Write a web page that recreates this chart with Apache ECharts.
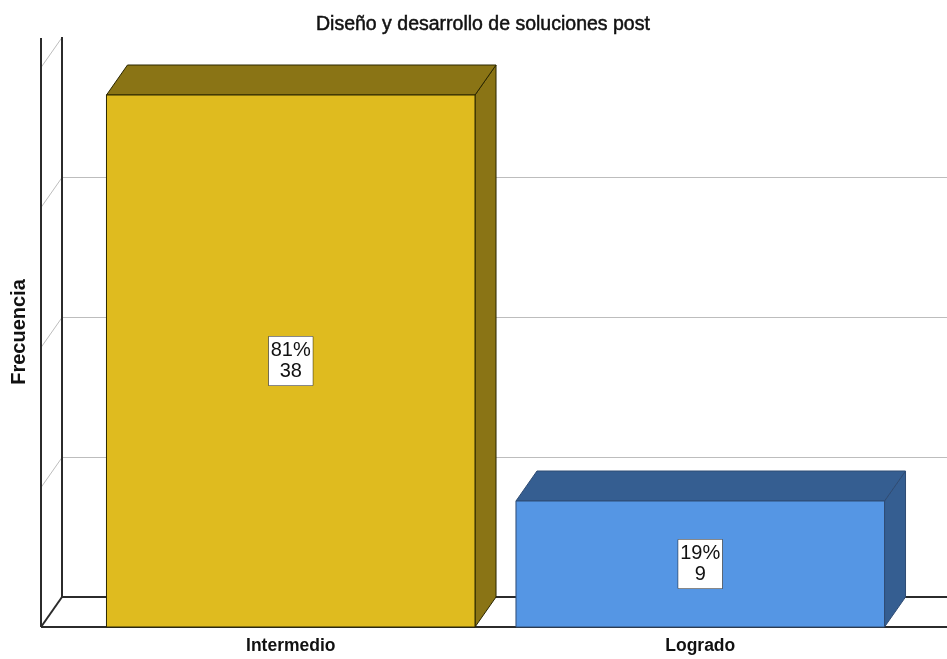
<!DOCTYPE html>
<html>
<head>
<meta charset="utf-8">
<script src="https://cdn.jsdelivr.net/npm/echarts@6/dist/echarts.min.js"></script>
<style>
  html, body { margin: 0; padding: 0; background: #ffffff; }
  #chart { width: 947px; height: 659px; }
</style>
</head>
<body>
<div id="chart"></div>
<script>
// Data
const categories = ['Intermedio', 'Logrado'];
const counts = [38, 9];
const yTicks = [0, 10, 20, 30, 40];

const titleText = 'Diseño y desarrollo de soluciones post';
const yAxisTitle = 'Frecuencia';

// Styling
const FONT = '"Liberation Sans", Arial, sans-serif';
const frontColors = ['#DFBB1F', '#5596E4'];
const shadeColors = ['#8A7415', '#355E91'];
const edgeColors = ['#2a2600', '#2f4c74'];
const DEPTH_X = 21;   // 3D depth offset, px
const DEPTH_Y = 30;
const WALL_DARK = '#2b2b2b';
const GRID_GRAY = '#bdbdbd';

const total = counts.reduce((a, b) => a + b, 0);
const percents = counts.map(v => Math.round(v / total * 100));

const chart = echarts.init(document.getElementById('chart'), null, { renderer: 'canvas' });

// Back wall, floor and left wall of the 3D frame, drawn in the back grid
function renderWalls(params, api) {
  const cs = params.coordSys;
  const left = cs.x;
  const right = cs.x + cs.width + 40;
  const children = [];
  const line = (x1, y1, x2, y2, stroke, w) => children.push({
    type: 'line', shape: { x1, y1, x2, y2 },
    style: { stroke, lineWidth: w }
  });
  const yTop = api.coord([0, yTicks[yTicks.length - 1]])[1];
  const yBase = api.coord([0, 0])[1];
  // gridlines on the back wall and their diagonals on the left wall
  yTicks.forEach((t, i) => {
    if (i === 0) return;
    const y = Math.round(api.coord([0, t])[1]) + 0.5;
    if (i < yTicks.length - 1) line(left, y, right, y, GRID_GRAY, 1);
    line(left, y, left - DEPTH_X, y + DEPTH_Y, GRID_GRAY, 1);
  });
  // left wall verticals
  line(left, yTop, left, yBase, WALL_DARK, 2);
  line(left - DEPTH_X, yTop + 1, left - DEPTH_X, yBase + DEPTH_Y, WALL_DARK, 2);
  // floor
  line(left, yBase, right, yBase, WALL_DARK, 2);
  line(left - DEPTH_X, yBase + DEPTH_Y, right, yBase + DEPTH_Y, WALL_DARK, 2);
  line(left, yBase, left - DEPTH_X, yBase + DEPTH_Y, WALL_DARK, 2);
  return { type: 'group', children };
}

// 3D bars with value / percentage label
function renderBar(params, api) {
  const i = api.value(0);
  const v = api.value(1);
  const top = api.coord([i, v]);
  const base = api.coord([i, 0]);
  const w = api.size([1, 0])[0] * 0.9;
  const xl = top[0] - w / 2, xr = top[0] + w / 2;
  const yt = top[1], yb = base[1];
  const edge = edgeColors[i];
  return {
    type: 'group',
    children: [
      {
        type: 'polygon',
        shape: { points: [[xr, yt], [xr + DEPTH_X, yt - DEPTH_Y], [xr + DEPTH_X, yb - DEPTH_Y], [xr, yb]] },
        style: { fill: shadeColors[i], stroke: edge, lineWidth: 1 }
      },
      {
        type: 'polygon',
        shape: { points: [[xl, yt], [xl + DEPTH_X, yt - DEPTH_Y], [xr + DEPTH_X, yt - DEPTH_Y], [xr, yt]] },
        style: { fill: shadeColors[i], stroke: edge, lineWidth: 1 }
      },
      {
        type: 'rect',
        shape: { x: xl, y: yt, width: w, height: yb - yt },
        style: { fill: frontColors[i], stroke: edge, lineWidth: 1 }
      },
      {
        type: 'text',
        x: top[0], y: (yt + yb) / 2,
        style: {
          text: percents[i] + '%\n' + counts[i],
          align: 'center', verticalAlign: 'middle',
          font: '20px ' + FONT, lineHeight: 21,
          fill: '#111',
          textBorderColor: '#111', textBorderWidth: 0.5,
          backgroundColor: '#ffffff',
          borderColor: '#333333', borderWidth: 1,
          padding: [4, 2, 3, 2],
          boxShadowColor: 'rgba(0,0,0,0.35)', boxShadowOffsetX: 1, boxShadowOffsetY: 1, boxShadowBlur: 1
        }
      }
    ]
  };
}

const option = {
  animation: false,
  backgroundColor: '#ffffff',
  title: {
    text: titleText,
    left: 311, top: 10,
    textStyle: {
      fontFamily: FONT, fontSize: 19.5, fontWeight: 'normal', color: '#111',
      textBorderColor: '#111', textBorderWidth: 0.5
    }
  },
  grid: [
    { left: 62, right: 0, top: 37, height: 560 },      // back wall
    { left: 86, width: 819, top: 67, height: 560 }      // front plane
  ],
  xAxis: [
    { gridIndex: 0, type: 'category', data: categories, show: false },
    {
      gridIndex: 1, type: 'category', data: categories,
      axisLine: { show: false }, axisTick: { show: false },
      axisLabel: { margin: 10, fontFamily: FONT, fontSize: 17.5, fontWeight: 'bold', color: '#111' }
    }
  ],
  yAxis: [
    { gridIndex: 0, type: 'value', min: 0, max: 40, interval: 10, show: false },
    { gridIndex: 1, type: 'value', min: 0, max: 40, interval: 10, show: false }
  ],
  graphic: [{
    type: 'text',
    x: 19, y: 332, rotation: Math.PI / 2,
    style: {
      text: yAxisTitle, align: 'center', verticalAlign: 'middle',
      font: 'bold 20px ' + FONT, fill: '#111'
    }
  }],
  series: [
    {
      type: 'custom', xAxisIndex: 0, yAxisIndex: 0,
      renderItem: renderWalls, data: [[0, 0]], silent: true, z: 1
    },
    {
      type: 'custom', xAxisIndex: 1, yAxisIndex: 1,
      renderItem: renderBar,
      data: counts.map((v, i) => [i, v]),
      z: 2
    }
  ]
};

chart.setOption(option);
</script>
</body>
</html>
